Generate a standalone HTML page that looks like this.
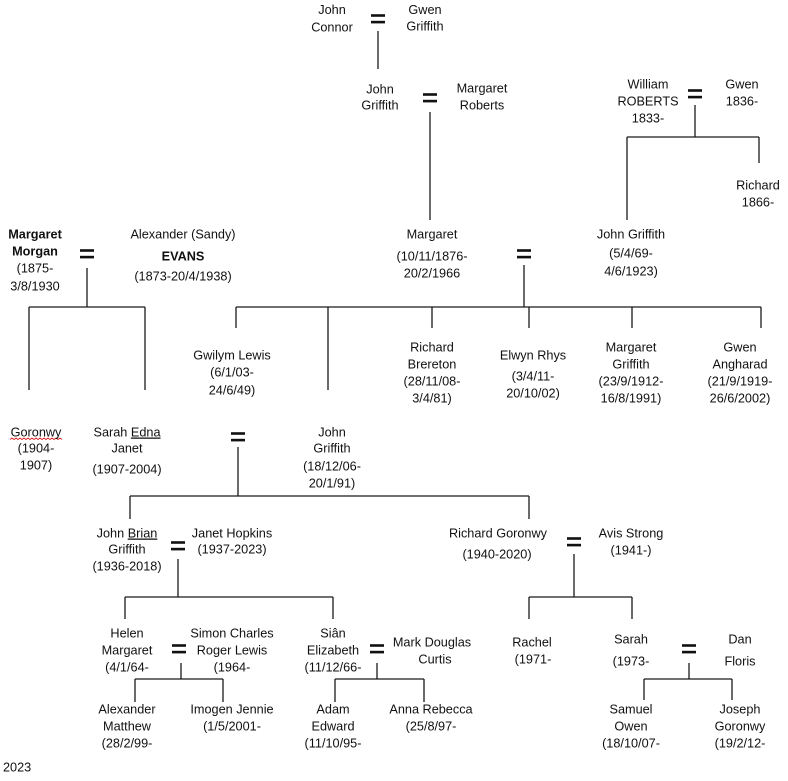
<!DOCTYPE html>
<html>
<head>
<meta charset="utf-8">
<style>
html,body{margin:0;padding:0;background:#fff;}
svg{display:block;}
text{font-family:"Liberation Sans",Arial,sans-serif;font-size:12.7px;fill:#111;text-anchor:middle;}
.b{font-weight:bold;}
</style>
</head>
<body>
<svg width="788" height="781" viewBox="0 0 788 781" xmlns="http://www.w3.org/2000/svg">
<g stroke="#1a1a1a" stroke-width="1.3" fill="none">
<path d="M378 31V69"/>
<path d="M430 112V220"/>
<path d="M695 105V137M627 137H759M759 137V163M627 137V220"/>
<path d="M87 268V307M29 307H145M29 307V390M145 307V390"/>
<path d="M524 265V307M236 307H761M236 307V328M432 307V328M529 307V328M632 307V328M761 307V328M328 307V390"/>
<path d="M238 447V496M130 496H529M130 496V519M529 496V519"/>
<path d="M178 559V597M125 597H333M125 597V619M333 597V619"/>
<path d="M574 554V597M529 597H632M529 597V619M632 597V619"/>
<path d="M181 663V679M135 679H223M135 679V702M223 679V702"/>
<path d="M377 663V679M335 679H424M335 679V702M424 679V702"/>
<path d="M689 663V679M644 679H732M644 679V700M732 679V700"/>
</g>
<g fill="#111">
<rect x="371" y="14.2" width="14" height="2.6"/><rect x="371" y="20.8" width="14" height="2.6"/>
<rect x="423" y="93.2" width="14" height="2.6"/><rect x="423" y="99.8" width="14" height="2.6"/>
<rect x="688" y="89.2" width="14" height="2.6"/><rect x="688" y="95.8" width="14" height="2.6"/>
<rect x="80" y="249.2" width="14" height="2.6"/><rect x="80" y="255.8" width="14" height="2.6"/>
<rect x="517" y="249.2" width="14" height="2.6"/><rect x="517" y="255.8" width="14" height="2.6"/>
<rect x="231" y="432.2" width="14" height="2.6"/><rect x="231" y="438.8" width="14" height="2.6"/>
<rect x="171" y="541.2" width="14" height="2.6"/><rect x="171" y="547.8" width="14" height="2.6"/>
<rect x="567" y="537.2" width="14" height="2.6"/><rect x="567" y="543.8" width="14" height="2.6"/>
<rect x="172" y="644.2" width="14" height="2.6"/><rect x="172" y="650.8" width="14" height="2.6"/>
<rect x="370" y="644.2" width="14" height="2.6"/><rect x="370" y="650.8" width="14" height="2.6"/>
<rect x="682" y="644.2" width="14" height="2.6"/><rect x="682" y="650.8" width="14" height="2.6"/>
</g>
<path d="M10 439.5l2-1.5 2 1.5 2-1.5 2 1.5 2-1.5 2 1.5 2-1.5 2 1.5 2-1.5 2 1.5 2-1.5 2 1.5 2-1.5 2 1.5 2-1.5 2 1.5 2-1.5 2 1.5 2-1.5 2 1.5 2-1.5 2 1.5 2-1.5 2 1.5 2-1.5 2 1.5" stroke="#d22" stroke-width="0.9" fill="none"/>

<text x="332" y="14">John</text><text x="332" y="31.5">Connor</text>
<text x="425" y="14">Gwen</text><text x="425" y="30.5">Griffith</text>
<text x="380" y="93.5">John</text><text x="380" y="109.5">Griffith</text>
<text x="482" y="92.5">Margaret</text><text x="482" y="109.5">Roberts</text>
<text x="648" y="88.5">William</text><text x="648" y="105.5">ROBERTS</text><text x="648" y="122.5">1833-</text>
<text x="742" y="88.5">Gwen</text><text x="742" y="105.5">1836-</text>
<text x="758" y="189.5">Richard</text><text x="758" y="206.5">1866-</text>

<text class="b" x="35" y="238.5">Margaret</text><text class="b" x="35" y="255.5">Morgan</text>
<text x="35" y="272.5">(1875-</text><text x="35" y="290.5">3/8/1930</text>
<text x="183" y="238.5">Alexander (Sandy)</text><text class="b" x="183" y="260.5">EVANS</text><text x="183" y="280.5">(1873-20/4/1938)</text>
<text x="432" y="238.5">Margaret</text><text x="432" y="260.5">(10/11/1876-</text><text x="432" y="277.5">20/2/1966</text>
<text x="631" y="238.5">John Griffith</text><text x="631" y="257.5">(5/4/69-</text><text x="631" y="275.5">4/6/1923)</text>

<text x="232" y="359.5">Gwilym Lewis</text><text x="232" y="376.5">(6/1/03-</text><text x="232" y="394.5">24/6/49)</text>
<text x="432" y="351.5">Richard</text><text x="432" y="368.5">Brereton</text><text x="432" y="385.5">(28/11/08-</text><text x="432" y="402.5">3/4/81)</text>
<text x="533" y="359.5">Elwyn Rhys</text><text x="533" y="380.5">(3/4/11-</text><text x="533" y="397.5">20/10/02)</text>
<text x="631" y="351.5">Margaret</text><text x="631" y="368.5">Griffith</text><text x="631" y="385.5">(23/9/1912-</text><text x="631" y="402.5">16/8/1991)</text>
<text x="740" y="351.5">Gwen</text><text x="740" y="368.5">Angharad</text><text x="740" y="385.5">(21/9/1919-</text><text x="740" y="402.5">26/6/2002)</text>

<text x="36" y="436.5">Goronwy</text><text x="36" y="452.5">(1904-</text><text x="36" y="469.5">1907)</text>
<text x="127" y="436.5">Sarah <tspan text-decoration="underline">Edna</tspan></text><text x="127" y="452.5">Janet</text><text x="127" y="473.5">(1907-2004)</text>
<text x="332" y="436.5">John</text><text x="332" y="452.5">Griffith</text><text x="332" y="470.5">(18/12/06-</text><text x="332" y="487.5">20/1/91)</text>

<text x="127" y="537.5">John <tspan text-decoration="underline">Brian</tspan></text><text x="127" y="553.5">Griffith</text><text x="127" y="570.5">(1936-2018)</text>
<text x="232" y="537.5">Janet Hopkins</text><text x="232" y="553.5">(1937-2023)</text>
<text x="498" y="537.5">Richard Goronwy</text><text x="497" y="558.5">(1940-2020)</text>
<text x="631" y="537.5">Avis Strong</text><text x="631" y="554.5">(1941-)</text>

<text x="127" y="637.5">Helen</text><text x="127" y="654.5">Margaret</text><text x="127" y="671.5">(4/1/64-</text>
<text x="232" y="637.5">Simon Charles</text><text x="232" y="654.5">Roger Lewis</text><text x="232" y="671.5">(1964-</text>
<text x="333" y="637.5">Siân</text><text x="333" y="654.5">Elizabeth</text><text x="333" y="671.5">(11/12/66-</text>
<text x="432" y="646.5">Mark Douglas</text><text x="435" y="663.5">Curtis</text>
<text x="532" y="646.5">Rachel</text><text x="533" y="663.5">(1971-</text>
<text x="631" y="643.5">Sarah</text><text x="631" y="665.5">(1973-</text>
<text x="740" y="643.5">Dan</text><text x="740" y="665.5">Floris</text>

<text x="127" y="713.5">Alexander</text><text x="127" y="730.5">Matthew</text><text x="127" y="747.5">(28/2/99-</text>
<text x="232" y="713.5">Imogen Jennie</text><text x="232" y="730.5">(1/5/2001-</text>
<text x="333" y="713.5">Adam</text><text x="333" y="730.5">Edward</text><text x="333" y="747.5">(11/10/95-</text>
<text x="431" y="713.5">Anna Rebecca</text><text x="431" y="730.5">(25/8/97-</text>
<text x="631" y="713.5">Samuel</text><text x="631" y="730.5">Owen</text><text x="631" y="747.5">(18/10/07-</text>
<text x="740" y="713.5">Joseph</text><text x="740" y="730.5">Goronwy</text><text x="740" y="747.5">(19/2/12-</text>

<text x="3" y="771.5" style="text-anchor:start">2023</text>
</svg>
</body>
</html>
